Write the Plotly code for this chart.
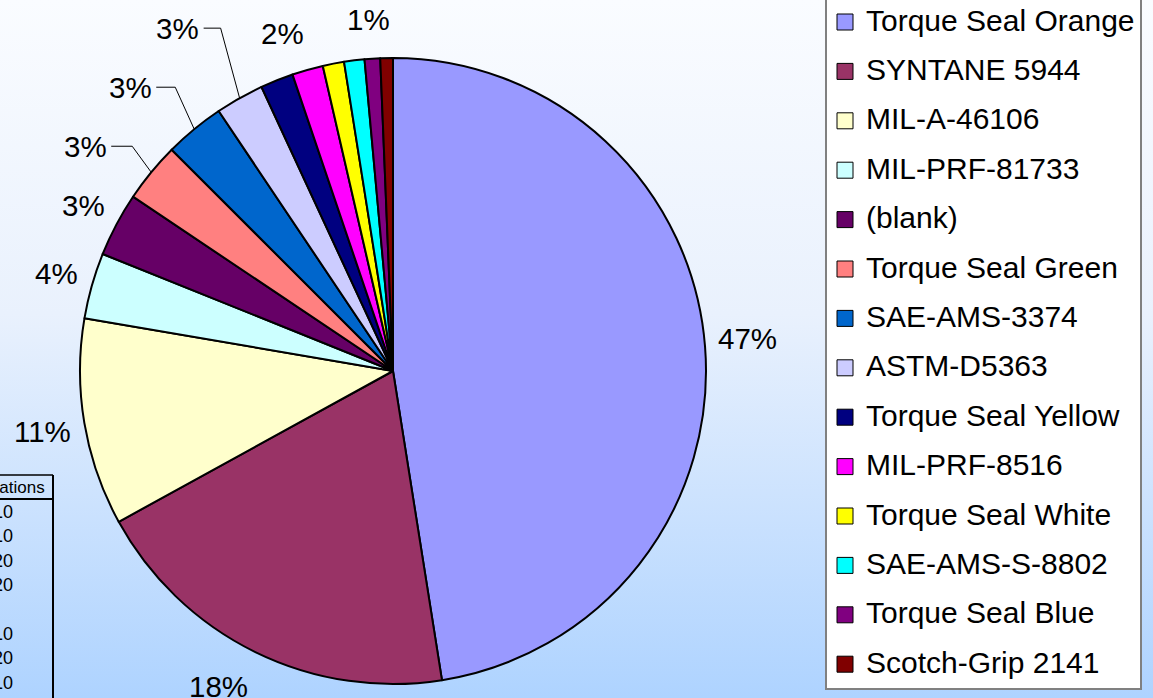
import base64
import math
import plotly.graph_objects as go

W, H = 1153, 698

# ---------------- data ----------------
labels = ["Torque Seal Orange", "SYNTANE 5944", "MIL-A-46106", "MIL-PRF-81733", "(blank)",
          "Torque Seal Green", "SAE-AMS-3374", "ASTM-D5363", "Torque Seal Yellow", "MIL-PRF-8516",
          "Torque Seal White", "SAE-AMS-S-8802", "Torque Seal Blue", "Scotch-Grip 2141"]
values = [47.5, 19.5, 10.7, 3.4, 3.3, 3.1, 3.1, 2.5, 1.7, 1.6, 1.1, 1.05, 0.8, 0.65]
pct_labels = ["47%", "18%", "11%", "4%", "3%", "3%", "3%", "3%", "2%", "", "", "", "1%", ""]
colors = ["#9999FF", "#993366", "#FFFFCC", "#CCFFFF", "#660066", "#FF8080", "#0066CC",
          "#CCCCFF", "#000080", "#FF00FF", "#FFFF00", "#00FFFF", "#800080", "#800000"]
table_header = "Applications"
table_values = ["10", "10", "20", "20", "", "10", "20", "10"]

# ---------------- layout helpers ----------------
FONT = "Liberation Sans, Arial, sans-serif"
CX, CY, R = 393, 371, 313          # pie centre / radius in pixels


def px(x):
    return x / W


def py(y):
    return 1 - y / H


# label nudges (pixels, relative to rim point at slice mid-angle)
label_nudge = [(42, -8), (-37, 34), (-42, 9), (-35, -12), (-33, -19), (-66, -26),
               (-64, -42), (-62, -70), (6, -47), (0, 0), (0, 0), (0, 0), (-4, -39), (0, 0)]
leader = {5, 6, 7}

fig = go.Figure()
fig.add_trace(go.Pie(
    labels=labels, values=values, sort=False, direction="clockwise", rotation=0,
    marker=dict(colors=colors, line=dict(color="black", width=2)),
    textinfo="none", hoverinfo="label+percent", showlegend=False,
    domain=dict(x=[px(CX - R), px(CX + R)], y=[py(CY + R), py(CY - R)]),
))

annotations = []
shapes = []
total = sum(values)
cum = 0.0
for i, v in enumerate(values):
    mid = 2 * math.pi * (cum + v / 2) / total
    cum += v
    if not pct_labels[i]:
        continue
    ax = CX + R * math.sin(mid)
    ay = CY - R * math.cos(mid)
    lx = ax + label_nudge[i][0]
    ly = ay + label_nudge[i][1]
    annotations.append(dict(x=px(lx), y=py(ly), xref="paper", yref="paper", text=pct_labels[i],
                            showarrow=False, xanchor="center", yanchor="middle",
                            font=dict(family=FONT, size=29.5, color="black")))
    if i in leader:
        sx = lx + 26
        ex = ax - 19
        shapes.append(dict(type="path", xref="paper", yref="paper",
                           path=f"M {px(sx)} {py(ly)} L {px(ex)} {py(ly)} L {px(ax)} {py(ay)}",
                           line=dict(color="black", width=1)))

# ---------------- manual legend ----------------
shapes.append(dict(type="rect", xref="paper", yref="paper", x0=px(826), x1=px(1141),
                   y0=py(689), y1=py(-10), fillcolor="white", line=dict(color="#808080", width=2)))
for i, lab in enumerate(labels):
    c = 20 + 49.4 * i
    shapes.append(dict(type="rect", xref="paper", yref="paper", x0=px(837), x1=px(853),
                       y0=py(c + 10), y1=py(c - 6), fillcolor=colors[i],
                       line=dict(color="black", width=1)))
    annotations.append(dict(x=px(864), y=py(c), xref="paper", yref="paper", text=lab,
                            showarrow=False, xanchor="left", yanchor="middle",
                            font=dict(family=FONT, size=30, color="black")))

# ---------------- partially visible table ----------------
shapes.append(dict(type="line", xref="paper", yref="paper", x0=px(-5), x1=px(53),
                   y0=py(475), y1=py(475), line=dict(color="black", width=1.5)))
shapes.append(dict(type="line", xref="paper", yref="paper", x0=px(-5), x1=px(53),
                   y0=py(499), y1=py(499), line=dict(color="black", width=2)))
shapes.append(dict(type="line", xref="paper", yref="paper", x0=px(53), x1=px(53),
                   y0=py(475), y1=py(710), line=dict(color="black", width=2)))
annotations.append(dict(x=px(47), y=py(487), xref="paper", yref="paper", text=table_header,
                        showarrow=False, xanchor="right", yanchor="middle",
                        font=dict(family=FONT, size=17, color="black")))
for j, t in enumerate(table_values):
    if not t:
        continue
    annotations.append(dict(x=px(15), y=py(512 + 24.4 * j), xref="paper", yref="paper", text=t,
                            showarrow=False, xanchor="right", yanchor="middle",
                            font=dict(family=FONT, size=18, color="black")))

# ---------------- gradient background ----------------
svg = (f'<svg xmlns="http://www.w3.org/2000/svg" width="{W}" height="{H}" preserveAspectRatio="none">'
       '<defs><linearGradient id="g" x1="0" y1="0" x2="0" y2="1">'
       '<stop offset="0" stop-color="#FAFCFF"/><stop offset="0.45" stop-color="#E9F1FD"/>'
       '<stop offset="1" stop-color="#AED3FF"/></linearGradient></defs>'
       f'<rect x="0" y="0" width="{W}" height="{H}" fill="url(#g)"/></svg>')
src = "data:image/svg+xml;base64," + base64.b64encode(svg.encode()).decode()

fig.update_layout(
    width=W, height=H, margin=dict(l=0, r=0, t=0, b=0),
    paper_bgcolor="#FAFCFF", showlegend=False,
    images=[dict(source=src, xref="paper", yref="paper", x=0, y=1, sizex=1, sizey=1,
                 sizing="stretch", xanchor="left", yanchor="top", layer="below")],
    shapes=shapes, annotations=annotations,
)

fig.write_html("out.html", config={"displayModeBar": False},
               post_script="document.body.style.margin='0';document.body.style.overflow='hidden';")
